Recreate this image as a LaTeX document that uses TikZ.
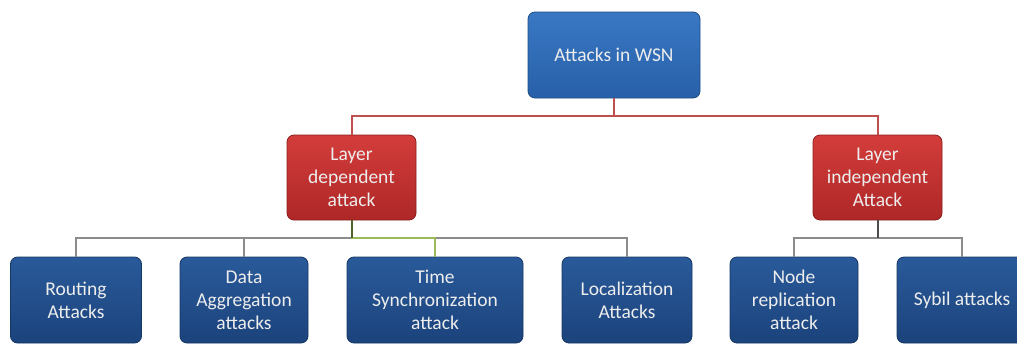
\documentclass[tikz,border=0pt]{standalone}
\usepackage{fontspec}
\setmainfont{Carlito}
\usepackage{tikz}

\definecolor{bluetop}{HTML}{3A78C4}
\definecolor{bluetopdark}{HTML}{2760A8}
\definecolor{bluebox}{HTML}{2A5A9A}
\definecolor{blueboxdark}{HTML}{1B437C}
\definecolor{redbox}{HTML}{D33D3B}
\definecolor{redboxdark}{HTML}{AE2727}
\definecolor{redline}{HTML}{C0504D}
\definecolor{grayline}{HTML}{8C8C8C}
\definecolor{greenline}{HTML}{9BBB59}
\definecolor{darkgreen}{HTML}{4F6228}
\definecolor{boxtext}{HTML}{EDEDED}

\begin{document}
\begin{tikzpicture}[x=1pt,y=-1pt,
  box/.style={rounded corners=7pt, inner sep=0pt, align=center,
    text=boxtext, font=\fontsize{19.5}{23}\selectfont,
    minimum height=86pt, line width=0.8pt},
  wsnbox/.style={box, draw=bluetopdark!80!black, top color=bluetop, bottom color=bluetopdark, minimum width=172pt},
  layerbox/.style={box, draw=redboxdark!80!black, top color=redbox, bottom color=redboxdark, minimum width=129pt, minimum height=85pt},
  attbox/.style={box, draw=blueboxdark!80!black, top color=bluebox, bottom color=blueboxdark, minimum width=#1},
  attbox/.default=130pt,
  conn/.style={line width=2pt, grayline}]
\useasboundingbox (0,0) rectangle (1017,343);

\node[wsnbox] (wsn) at (614,55) {Attacks in WSN};

\node[layerbox] (dep) at (351.5,177.5) {Layer\\dependent\\attack};
\node[layerbox] (indep) at (877.5,177.5) {Layer\\independent\\Attack};

\node[attbox=131pt] (routing) at (76,300) {Routing\\Attacks};
\node[attbox=128pt] (aggr) at (244,300) {Data\\Aggregation\\attacks};
\node[attbox=176pt] (timesync) at (435,300) {Time\\Synchronization\\attack};
\node[attbox] (local) at (627,300) {Localization\\Attacks};
\node[attbox=128pt] (replic) at (794,300) {Node\\replication\\attack};
\node[attbox] (sybil) at (962,300) {Sybil attacks};

\draw[conn, redline] (wsn.south) -- ++(0,18) -| (dep.north);
\draw[conn, redline] (wsn.south) -- ++(0,18) -| (indep.north);

% dependent
\foreach \n in {routing,aggr,local} {
\draw[conn] (dep.south) -- ++(0,18) -| (\n.north);
}
\draw[conn, greenline] (dep.south) -- ++(0,18) -| (timesync.north);
\draw[conn, darkgreen] (dep.south) -- ++(0,18);

% independent
\foreach \n in {replic,sybil} {
\draw[conn] (indep.south) -- ++(0,18) -| (\n.north);
}
\draw[conn, black!70] (indep.south) -- ++(0,18);
\end{tikzpicture}
\end{document}
